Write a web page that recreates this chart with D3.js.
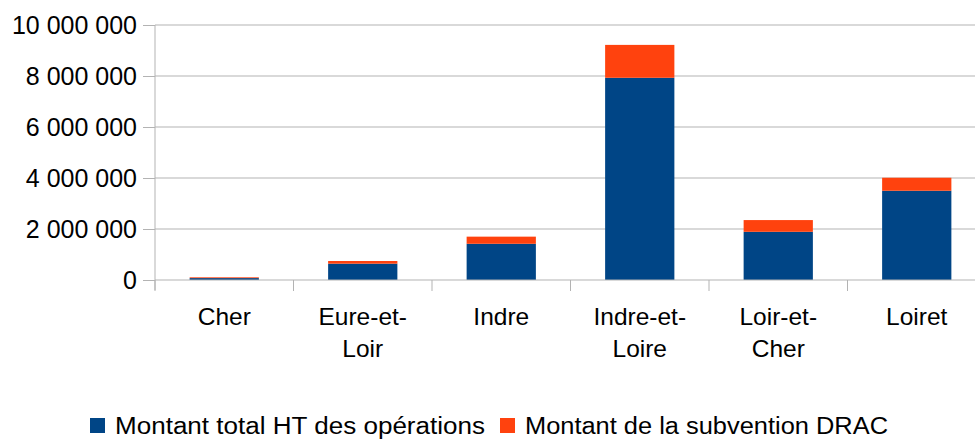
<!DOCTYPE html>
<html>
<head>
<meta charset="utf-8">
<script src="https://cdn.jsdelivr.net/npm/d3@7"></script>
<style>
  body { margin: 0; background: #fff; }
  svg { display: block; font-family: "Liberation Sans", Arial, sans-serif; }
</style>
</head>
<body>
<svg id="chart"></svg>
<script>
const categories = ["Cher", "Eure-et-Loir", "Indre", "Indre-et-Loire", "Loir-et-Cher", "Loiret"];
const categoryLines = [["Cher"], ["Eure-et-", "Loir"], ["Indre"], ["Indre-et-", "Loire"], ["Loir-et-", "Cher"], ["Loiret"]];
const montantTotal = [75000, 640000, 1420000, 7930000, 1890000, 3500000];
const subventionDrac = [30000, 105000, 280000, 1290000, 460000, 510000];
const seriesNames = ["Montant total HT des opérations", "Montant de la subvention DRAC"];
const seriesColors = ["#004586", "#ff420e"];
const yTicks = [0, 2000000, 4000000, 6000000, 8000000, 10000000];

const width = 975, height = 439;
const svg = d3.select("#chart").attr("width", width).attr("height", height);

const x = d3.scaleBand().domain(categories).range([155, 986]).paddingInner(0.5).paddingOuter(0.25);
const y = d3.scaleLinear().domain([0, 10000000]).range([280, 25]);

const fmt = v => d3.format(",")(v).replace(/,/g, " ");

// grid lines
svg.append("g")
  .selectAll("line")
  .data(yTicks.slice(1))
  .enter().append("line")
  .attr("x1", 155).attr("x2", width)
  .attr("y1", d => y(d)).attr("y2", d => y(d))
  .attr("stroke", "#b3b3b3").attr("stroke-width", 1);

// stacked data
const rows = categories.map((c, i) => ({ cat: c, total: montantTotal[i], drac: subventionDrac[i] }));
const stack = d3.stack().keys(["total", "drac"])(rows);

svg.append("g")
  .selectAll("g")
  .data(stack)
  .enter().append("g")
  .attr("fill", (d, i) => seriesColors[i])
  .selectAll("rect")
  .data(d => d)
  .enter().append("rect")
  .attr("x", d => x(d.data.cat))
  .attr("width", x.bandwidth())
  .attr("y", d => y(d[1]))
  .attr("height", d => y(d[0]) - y(d[1]));

// y axis
const yAxis = svg.append("g").attr("transform", "translate(155,0)")
  .call(d3.axisLeft(y).tickValues(yTicks).tickFormat(fmt).tickSize(12).tickPadding(6));
yAxis.select(".domain").attr("stroke", "#b3b3b3").attr("d", "M0,25V290");
yAxis.selectAll(".tick line").attr("stroke", "#b3b3b3");
yAxis.selectAll(".tick text").attr("fill", "#000").style("font-size", "25px")
  .style("font-family", "'Liberation Sans', Arial, sans-serif");

// x axis
const step = x.step();
const bounds = d3.range(categories.length + 1).map(i => 155 + i * step);
svg.append("line").attr("x1", 155).attr("x2", width).attr("y1", 280).attr("y2", 280)
  .attr("stroke", "#b3b3b3");
svg.append("g").selectAll("line").data(bounds).enter().append("line")
  .attr("x1", d => d).attr("x2", d => d).attr("y1", 280).attr("y2", 291)
  .attr("stroke", "#b3b3b3");

// category labels
const labels = svg.append("g").selectAll("text").data(categories).enter().append("text")
  .attr("text-anchor", "middle")
  .attr("font-size", "24.5px")
  .attr("fill", "#000");
labels.each(function(d, i) {
  const t = d3.select(this);
  categoryLines[i].forEach((line, j) => {
    t.append("tspan").attr("x", x(d) + x.bandwidth() / 2).attr("y", 325 + j * 32).text(line);
  });
});

// legend
const legend = svg.append("g");
const legendX = [90, 500];
const legendLen = [370, 363];
seriesNames.forEach((name, i) => {
  legend.append("rect").attr("x", legendX[i]).attr("y", 418).attr("width", 15).attr("height", 15)
    .attr("fill", seriesColors[i]);
  legend.append("text").attr("x", legendX[i] + 25).attr("y", 434).attr("font-size", "23px")
    .attr("textLength", legendLen[i]).attr("lengthAdjust", "spacingAndGlyphs")
    .attr("fill", "#000").text(name);
});
</script>
</body>
</html>
